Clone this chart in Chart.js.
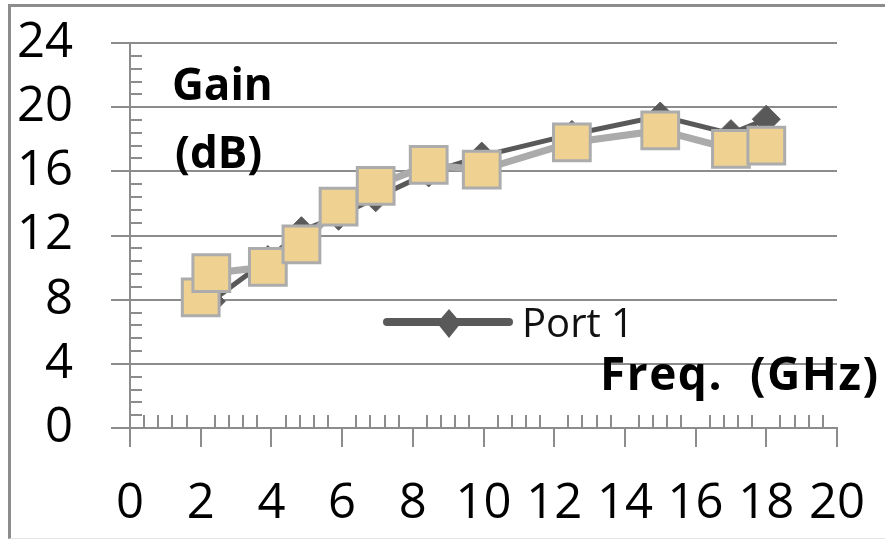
<!DOCTYPE html>
<html>
<head>
<meta charset="utf-8">
<title>Gain vs Frequency</title>
<script src="https://cdn.jsdelivr.net/npm/chart.js@4.4.1/dist/chart.umd.min.js"></script>
<style>
  html, body { margin: 0; padding: 0; background: #fff; }
  #wrap { position: relative; width: 885px; height: 541px; overflow: hidden; }
  #gain { position: absolute; left: 0; top: 0; }
  /* outer frame of the original figure */
  #frame {
    position: absolute; left: 8px; top: 4px; right: -4px; bottom: 2px;
    border-top: 3px solid #8c8c8c; border-left: 3px solid #8c8c8c;
    border-bottom: 1px solid #e4e4e4; pointer-events: none;
  }
</style>
</head>
<body>
<div id="wrap">
  <canvas id="gain" width="885" height="541"></canvas>
  <div id="frame"></div>
</div>
<script>
// values
const freqGHz   = [2.0, 2.3, 3.9, 4.85, 5.9, 6.95, 8.45, 9.95, 12.5, 15.0, 17.0, 18.0];
const port1Gain = [8.0, 7.9, 10.5, 12.3, 13.2, 14.35, 15.9, 16.95, 18.3, 19.45, 18.35, 19.25];
const port2Gain = [8.15, 9.65, 10.05, 11.45, 13.8, 15.1, 16.4, 16.1, 17.8, 18.55, 17.4, 17.6];

const xTickValues = [0, 2, 4, 6, 8, 10, 12, 14, 16, 18, 20];
const yTickValues = [0, 4, 8, 12, 16, 20, 24];

const AXIS_GREY = '#8c8c8c';
const FONT = "'Open Sans', 'Liberation Sans', sans-serif";

// minor ticks, axis captions and the single legend entry, drawn like the Excel original
const extras = {
    id: 'extras',
    beforeDatasetsDraw(chart) {
        const ctx = chart.ctx;
        const xs = chart.scales.x, ys = chart.scales.y;
        const left = chart.chartArea.left, bottom = chart.chartArea.bottom;
        ctx.save();
        ctx.strokeStyle = AXIS_GREY;
        ctx.lineWidth = 2;
        ctx.beginPath();
        for (let i = 1; i < 50; i++) {
            if (i % 5 === 0) continue;
            const px = Math.round(xs.getPixelForValue(i * 0.4));
            ctx.moveTo(px, bottom);
            ctx.lineTo(px, bottom - 13);
        }
        for (let i = 1; i < 30; i++) {
            if (i % 5 === 0) continue;
            const py = Math.round(ys.getPixelForValue(i * 0.8));
            ctx.moveTo(left, py);
            ctx.lineTo(left + 12, py);
        }
        ctx.stroke();
        ctx.restore();
    },
    afterDraw(chart) {
        const ctx = chart.ctx;
        ctx.save();
        ctx.fillStyle = '#000';
        ctx.textBaseline = 'alphabetic';
        ctx.textAlign = 'left';
        ctx.font = 'bold 44px ' + FONT;
        ctx.fillText('Gain', 172, 100);
        ctx.fillText('(dB)', 175, 168);
        ctx.font = 'bold 46px ' + FONT;
        ctx.letterSpacing = '1.5px';
        ctx.fillText('Freq.  (GHz)', 600, 390);
        ctx.letterSpacing = '0px';

        // legend: Port 1 only
        ctx.strokeStyle = '#595959';
        ctx.lineWidth = 8;
        ctx.lineCap = 'round';
        ctx.beginPath();
        ctx.moveTo(387, 322);
        ctx.lineTo(509, 322);
        ctx.stroke();
        ctx.fillStyle = '#595959';
        ctx.beginPath();
        ctx.moveTo(449, 309);
        ctx.lineTo(461, 323);
        ctx.lineTo(449, 338);
        ctx.lineTo(437, 323);
        ctx.closePath();
        ctx.fill();
        ctx.fillStyle = '#111';
        ctx.font = '40px ' + FONT;
        ctx.fillText('Port 1', 522, 337);
        ctx.restore();
    }
};

const toPoints = ys => freqGHz.map((f, i) => ({ x: f, y: ys[i] }));

new Chart(document.getElementById('gain'), {
    type: 'scatter',
    data: {
        datasets: [
            {
                label: 'Port 1',
                data: toPoints(port1Gain),
                showLine: true,
                borderColor: '#595959',
                borderWidth: 5,
                pointStyle: 'rectRot',
                pointRadius: 14,
                pointBackgroundColor: '#595959',
                pointBorderColor: '#595959',
                pointBorderWidth: 1,
                order: 2
            },
            {
                label: 'Port 2',
                data: toPoints(port2Gain),
                showLine: true,
                borderColor: '#ababab',
                borderWidth: 7,
                pointStyle: 'rect',
                pointRadius: 26,
                pointBackgroundColor: '#efd291',
                pointBorderColor: '#acacac',
                pointBorderWidth: 3,
                order: 1
            }
        ]
    },
    options: {
        responsive: false,
        animation: false,
        devicePixelRatio: 1,
        clip: false,
        layout: { padding: { left: 0, top: 43, right: 48, bottom: 0 } },
        plugins: {
            legend: { display: false },
            tooltip: { enabled: false }
        },
        scales: {
            x: {
                type: 'linear',
                min: 0,
                max: 20,
                afterBuildTicks: s => { s.ticks = xTickValues.map(v => ({ value: v })); },
                afterFit: s => { s.height = 113; s.paddingLeft = 0; s.paddingRight = 0; },
                ticks: { color: '#000', font: { family: FONT, size: 49 }, padding: 28, maxRotation: 0 },
                grid: { drawOnChartArea: false, drawTicks: true, tickLength: 19, color: AXIS_GREY, lineWidth: 2 },
                border: { display: true, color: AXIS_GREY, width: 2 }
            },
            y: {
                min: 0,
                max: 24,
                afterBuildTicks: s => { s.ticks = yTickValues.map(v => ({ value: v })); },
                afterFit: s => { s.width = 130; s.paddingTop = 0; s.paddingBottom = 0; },
                ticks: { color: '#000', font: { family: FONT, size: 49 }, padding: 38 },
                grid: { drawOnChartArea: true, drawTicks: true, tickLength: 19, color: AXIS_GREY, lineWidth: 2 },
                border: { display: true, color: AXIS_GREY, width: 2 }
            }
        }
    },
    plugins: [extras]
});
</script>
</body>
</html>
